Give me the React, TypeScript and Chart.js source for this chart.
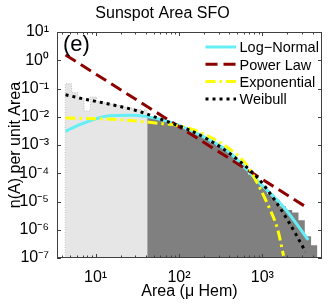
import { useEffect, useRef } from 'react';
import { Chart, registerables } from 'chart.js';

Chart.register(...registerables);

const FONT = '"Liberation Sans", Arial, Helvetica, sans-serif';

// Histogram bin edges (Area, μHem)
const histEdges = [4.33, 5.15, 6.13, 7.29, 8.68, 10.3, 12.3, 14.6, 17.4, 20.7, 24.7, 29.4, 34.9, 41.6, 49.5, 58.9, 70.1, 83.4, 99.3, 118, 141, 167, 199, 237, 282, 336, 400, 476, 566, 674, 802, 954, 1136, 1351, 1608, 1914, 2278, 2711, 3227, 3840, 4571];
// Below-threshold bins (light grey)
const lightHist = [0.147, 0.071, 0.044, 0.016, 0.05, 0.035, 0.031, 0.028, 0.025, 0.022, 0.02, 0.018, 0.017];
// Fitted-range bins (dark grey)
const darkHist = [9.5e-3, 8.4e-3, 7.4e-3, 6.5e-3, 5.4e-3, 4.3e-3, 3.4e-3, 2.7e-3, 2.15e-3, 1.65e-3, 1.2e-3, 9.1e-4, 6.7e-4, 4.3e-4, 2.5e-4, 1.5e-4, 9.0e-5, 5.4e-5, 3.2e-5, 1.9e-5, 1.15e-5, 6.8e-6, 5.0e-6, 4.1e-6, 2.15e-6, 5.9e-7, 2.8e-7];

// Fitted curves
const logNormalA = [4.37, 6.46, 14.7, 25.3, 40.3, 81.8, 206, 389, 881, 1828, 3548];
const logNormalV = [3.04e-3, 5.25e-3, 1.09e-2, 1.14e-2, 1.03e-2, 6.17e-3, 1.82e-3, 6.0e-4, 5.25e-5, 6.04e-6, 4.35e-7];

const powerLawA = [4.37, 3297];
const powerLawV = [1.544, 6.56e-6];

const expA = [4.37, 19.3, 52.5, 108.6, 206, 389, 671, 806, 1159, 1524, 1795];
const expV = [9.04e-3, 7.87e-3, 6.03e-3, 4.57e-3, 2.33e-3, 7.9e-4, 1.77e-4, 6.9e-5, 7.9e-6, 1.04e-6, 1.2e-7];

const weibullA = [4.37, 7.01, 13.9, 33.3, 62.9, 130, 225, 407, 881, 1390, 2094, 3297];
const weibullV = [0.06, 0.0434, 0.0289, 0.01545, 7.87e-3, 3.49e-3, 1.55e-3, 4.98e-4, 6.8e-5, 1.19e-5, 1.79e-6, 1.67e-7];

const seriesNames = ['Log\u2212Normal', 'Power Law', 'Exponential', 'Weibull'];
const seriesColors = ['rgb(100,238,245)', 'rgb(140,0,0)', 'rgb(255,255,0)', 'rgb(0,0,0)'];
const seriesDash = [[], [12, 6], [10, 4, 2.5, 4], [3, 4]];

const X_MIN = 3.45;
const X_MAX = 5190;
const Y_MIN = 1e-7;
const Y_MAX = 10;

const SUP: Record<string, string> = { '0': '\u2070', '1': '\u00B9', '2': '\u00B2', '3': '\u00B3', '4': '\u2074', '5': '\u2075', '6': '\u2076', '7': '\u2077', '8': '\u2078', '9': '\u2079', '-': '\u207B' };

function powLabel(v: number): string {
  const e = Math.log10(v);
  const r = Math.round(e);
  if (Math.abs(e - r) > 1e-6) return '';
  return '10' + String(r).split('').map((c) => SUP[c] || c).join('');
}

function pts(a: number[], v: number[]) {
  return a.map((x, i) => ({ x, y: v[i] }));
}

function histPts(edges: number[], vals: number[], withLeftEdge: boolean) {
  const out: { x: number; y: number }[] = [];
  if (withLeftEdge) out.push({ x: edges[0], y: Y_MIN });
  vals.forEach((v, i) => out.push({ x: edges[i], y: v }));
  out.push({ x: edges[vals.length], y: vals[vals.length - 1] });
  return out;
}

const boxPlugin = {
  id: 'boxPlugin',
  afterDraw(chart: any) {
    const { ctx, chartArea } = chart;
    const { left, right, top, bottom } = chartArea;
    const xs = chart.scales.x;
    const ys = chart.scales.y;
    ctx.save();
    ctx.strokeStyle = '#404040';
    ctx.lineWidth = 1;
    ctx.setLineDash([]);
    ctx.strokeRect(left + 0.5, top + 0.5, right - left - 1, bottom - top - 1);
    // inward ticks
    ctx.beginPath();
    for (let d = 0; d <= 4; d++) {
      for (let m = 1; m <= 9; m++) {
        const v = m * Math.pow(10, d);
        if (v < X_MIN || v > X_MAX) continue;
        const px = Math.round(xs.getPixelForValue(v)) + 0.5;
        const len = m === 1 ? 4 : 2.5;
        ctx.moveTo(px, bottom);
        ctx.lineTo(px, bottom - len);
        ctx.moveTo(px, top);
        ctx.lineTo(px, top + len);
      }
    }
    for (let d = -7; d <= 1; d++) {
      const py = Math.round(ys.getPixelForValue(Math.pow(10, d))) + 0.5;
      ctx.moveTo(left, py);
      ctx.lineTo(left + 4, py);
      ctx.moveTo(right, py);
      ctx.lineTo(right - 4, py);
    }
    ctx.stroke();

    // panel label
    ctx.fillStyle = '#000';
    ctx.font = '22px ' + FONT;
    ctx.textBaseline = 'alphabetic';
    ctx.textAlign = 'left';
    ctx.fillText('(e)', 63, 50.5);

    // legend
    const x0 = 205.5;
    const x1 = 236;
    ctx.font = '14.5px ' + FONT;
    seriesNames.forEach((name, i) => {
      const y = 47 + i * 17.3;
      ctx.beginPath();
      ctx.strokeStyle = seriesColors[i];
      ctx.lineWidth = 3;
      ctx.lineCap = 'butt';
      ctx.setLineDash(seriesDash[i]);
      ctx.moveTo(x0, y);
      ctx.lineTo(x1, y);
      ctx.stroke();
      ctx.setLineDash([]);
      ctx.fillStyle = '#000';
      ctx.fillText(name, 239.5, y + 5.2);
    });
    ctx.restore();
  },
};

export default function App() {
  const ref = useRef<HTMLCanvasElement>(null);
  useEffect(() => {
    const curve = (label: string, a: number[], v: number[], i: number, order: number) => ({
      label,
      data: pts(a, v),
      borderColor: seriesColors[i],
      backgroundColor: seriesColors[i],
      borderWidth: 3,
      borderDash: seriesDash[i],
      borderCapStyle: 'butt',
      pointRadius: 0,
      fill: false,
      cubicInterpolationMode: 'monotone',
      order,
    });
    const chart = new Chart(ref.current as HTMLCanvasElement, {
      type: 'line',
      data: {
        datasets: [
          curve(seriesNames[3], weibullA, weibullV, 3, 0),
          curve(seriesNames[2], expA, expV, 2, 1),
          curve(seriesNames[1], powerLawA, powerLawV, 1, 2),
          curve(seriesNames[0], logNormalA, logNormalV, 0, 3),
          {
            label: 'fitted',
            data: histPts(histEdges.slice(lightHist.length), darkHist, false),
            stepped: true,
            borderWidth: 0,
            borderColor: 'rgba(0,0,0,0)',
            backgroundColor: 'rgb(128,128,128)',
            pointRadius: 0,
            fill: 'start',
            order: 4,
          },
          {
            label: 'below',
            data: histPts(histEdges, lightHist, true),
            stepped: true,
            borderWidth: 1,
            borderColor: 'rgb(190,190,190)',
            borderDash: [1, 1.5],
            backgroundColor: 'rgb(230,230,230)',
            pointRadius: 0,
            fill: 'start',
            order: 5,
          },
        ] as any,
      },
      options: {
        responsive: false,
        animation: false,
        devicePixelRatio: 1,
        layout: { padding: { left: 0, right: 7, top: 0, bottom: 0 } },
        font: { family: FONT },
        plugins: {
          legend: { display: false },
          tooltip: { enabled: false },
          title: {
            display: true,
            text: 'Sunspot Area SFO',
            color: '#000',
            font: { family: FONT, size: 16, weight: 'normal' },
            padding: { top: 4, bottom: 8.8 },
          },
        },
        scales: {
          x: {
            type: 'logarithmic',
            min: X_MIN,
            max: X_MAX,
            position: 'bottom',
            grid: { display: false, drawTicks: false },
            border: { display: false },
            ticks: {
              autoSkip: false,
              maxRotation: 0,
              padding: 10,
              color: '#000',
              font: { family: FONT, size: 16 },
              callback: (v: any) => powLabel(Number(v)),
            },
            title: {
              display: true,
              text: 'Area (\u03BC Hem)',
              color: '#000',
              font: { family: FONT, size: 16 },
              padding: { top: 0, bottom: 2.5 },
            },
            afterFit: (s: any) => {
              s.height = 46;
            },
          },
          y: {
            type: 'logarithmic',
            min: Y_MIN,
            max: Y_MAX,
            position: 'left',
            grid: { display: false, drawTicks: false },
            border: { display: false },
            ticks: {
              autoSkip: false,
              padding: 8,
              color: '#000',
              font: { family: FONT, size: 16 },
              callback: (v: any) => powLabel(Number(v)),
            },
            title: {
              display: true,
              text: 'n(A) per unit Area',
              color: '#000',
              font: { family: FONT, size: 16 },
              padding: { top: 6.4, bottom: 0 },
            },
            afterFit: (s: any) => {
              s.width = 57;
            },
          },
        },
      } as any,
      plugins: [boxPlugin],
    });
    return () => chart.destroy();
  }, []);
  return (
    <div style={{ position: 'absolute', left: 0, top: 0, width: 332, height: 304, background: '#fff' }}>
      <canvas ref={ref} width={332} height={304} style={{ display: 'block', width: 332, height: 304 }} />
    </div>
  );
}
